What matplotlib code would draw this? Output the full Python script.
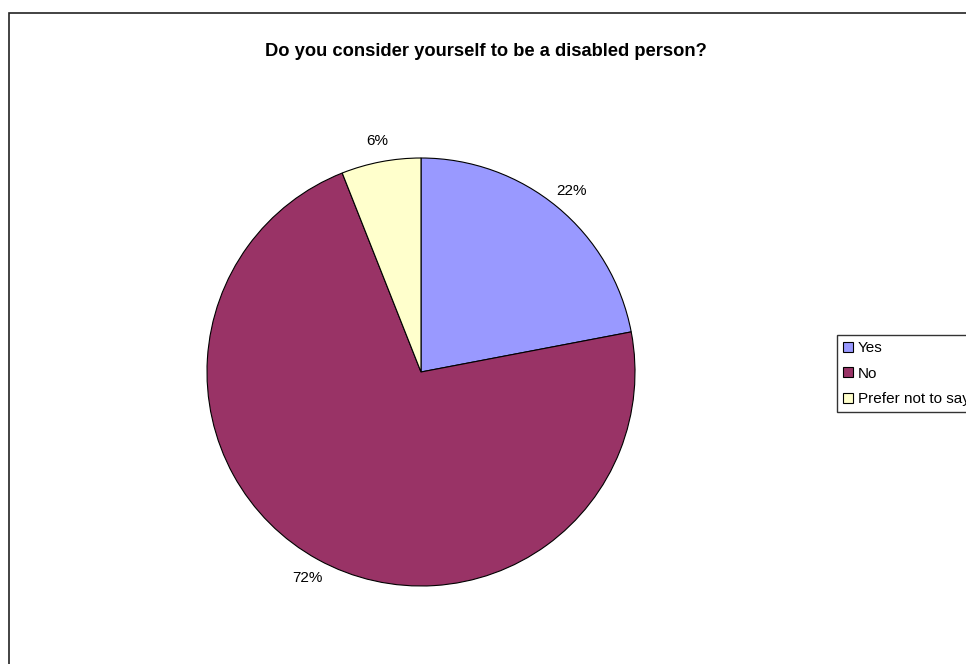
import matplotlib.pyplot as plt
from matplotlib.patches import Patch, Rectangle

plt.rcParams['font.family'] = ['Liberation Sans', 'DejaVu Sans']

# data
labels = ['Yes', 'No', 'Prefer not to say']
values = [22, 72, 6]
colors = ['#9999FF', '#993366', '#FFFFCC']

W, H = 966, 664
fig = plt.figure(figsize=(W / 100, H / 100), dpi=100)

# outer chart border (runs off the right and bottom edges)
fig.patches.append(Rectangle((9 / W, -0.05), 1.1, 1 - 12.5 / H + 0.05,
                             transform=fig.transFigure, fill=False,
                             edgecolor='#222222', linewidth=1.2))

fig.text(486 / W, 1 - 52 / H, 'Do you consider yourself to be a disabled person?',
         ha='center', va='center', fontsize=13.2, fontweight='bold')

ax = fig.add_axes([207 / W, 78 / H, 428 / W, 428 / H])
wedges, texts, autotexts = ax.pie(values, colors=colors, startangle=90, counterclock=False,
                                  autopct='%1.0f%%', pctdistance=1.1,
                                  wedgeprops=dict(edgecolor='black', linewidth=0.8))
for t in autotexts:
    t.set_fontsize(11)
ax.set_xlim(-1, 1)
ax.set_ylim(-1, 1)
ax.set_aspect('equal')

handles = [Patch(facecolor=c, edgecolor='black', linewidth=0.8) for c in colors]
fig.legend(handles, labels, loc='upper left', bbox_to_anchor=(837 / W, 1 - 335 / H),
           fontsize=11, frameon=True, fancybox=False, edgecolor='black',
           handlelength=0.65, handleheight=0.65, handletextpad=0.3, labelspacing=0.75,
           borderpad=0.4, borderaxespad=0)

fig.savefig('out.png', dpi=100)
